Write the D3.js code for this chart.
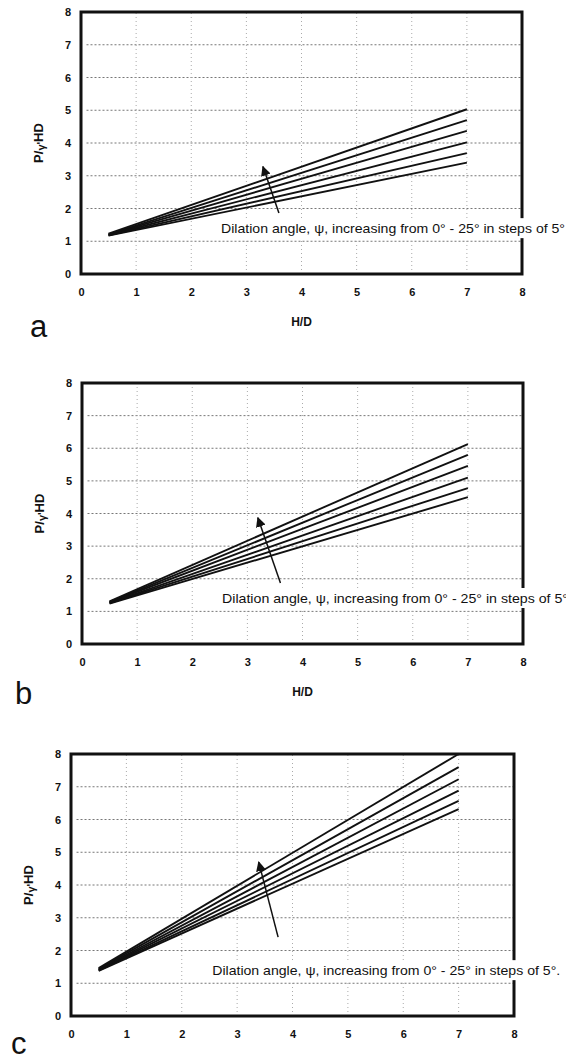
<!DOCTYPE html>
<head>
    <meta charset="UTF-8">
    <title>Pullout capacity vs H/D</title>
</head>
<style>
    body { margin: 0; background: #fff; }
    svg { font-family: "Liberation Sans", Arial, sans-serif; }
    .tick text { font-size: 11px; font-weight: bold; fill: #111; }
    .grid-h line { stroke: #777; stroke-dasharray: 2,2; }
    .grid-v line { stroke: #aaa; stroke-dasharray: 1,3; }
    .curve { fill: none; stroke: #111; stroke-width: 1.9; }
</style>
<body>
<script src="https://d3js.org/d3.v7.min.js"></script>
<script>
    // H/D values where each curve starts and ends (the curves are straight)
    var hd = [0.5, 7];
    var psi = [0, 5, 10, 15, 20, 25];
    var ticks = [0, 1, 2, 3, 4, 5, 6, 7, 8];

    // P/γ'HD at H/D = 0.5 and 7, one pair per dilation angle
    var valuesA = [[1.17, 3.40], [1.18, 3.69], [1.19, 4.02], [1.20, 4.37], [1.21, 4.70], [1.23, 5.03]];
    var valuesB = [[1.24, 4.50], [1.25, 4.78], [1.26, 5.10], [1.28, 5.46], [1.29, 5.80], [1.31, 6.13]];
    var valuesC = [[1.38, 6.32], [1.39, 6.57], [1.41, 6.88], [1.42, 7.23], [1.44, 7.60], [1.46, 8.00]];

    var note = "Dilation angle, \u03c8, increasing from 0\u00b0 - 25\u00b0 in steps of 5\u00b0";

    var panels = [
        {id: "a", values: valuesA, left: 81, right: 522, top: 12, bottom: 274, xlabel: true,
            text: [2.54, 1.40], tail: [3.59, 1.86], tip: [3.30, 3.28], end: "", len: 344},
        {id: "b", values: valuesB, left: 82, right: 523, top: 383, bottom: 644, xlabel: true,
            text: [2.54, 1.41], tail: [3.60, 1.87], tip: [3.19, 3.87], end: "", len: 346},
        {id: "c", values: valuesC, left: 71, right: 514, top: 754, bottom: 1016, xlabel: false,
            text: [2.55, 1.40], tail: [3.74, 2.41], tip: [3.39, 4.70], end: ".", len: 348}
    ];

    var svg = d3.select("body").append("svg")
        .attr("width", 566)
        .attr("height", 1061);

    svg.append("defs").append("marker")
        .attr("id", "head")
        .attr("viewBox", "0 0 10 10")
        .attr("refX", 9).attr("refY", 5)
        .attr("markerWidth", 10).attr("markerHeight", 10)
        .attr("markerUnits", "userSpaceOnUse")
        .attr("orient", "auto")
        .append("path")
        .attr("d", "M0,0L10,5L0,10z")
        .attr("fill", "#111");

    panels.forEach(function(p) {
        var x = d3.scaleLinear().domain([0, 8]).range([p.left, p.right]);
        var y = d3.scaleLinear().domain([0, 8]).range([p.bottom, p.top]);
        var g = svg.append("g");

        // dotted grid
        g.append("g").attr("class", "grid-h")
            .selectAll("line").data(ticks.slice(1, 8)).join("line")
            .attr("x1", x(0.1)).attr("x2", p.right)
            .attr("y1", y).attr("y2", y);
        g.append("g").attr("class", "grid-v")
            .selectAll("line").data(ticks.slice(1, 8)).join("line")
            .attr("x1", x).attr("x2", x)
            .attr("y1", p.bottom).attr("y2", p.top);

        // axes, labels only
        g.append("g")
            .attr("transform", "translate(" + p.left + ",0)")
            .call(d3.axisLeft(y).tickValues(ticks).tickSize(0).tickPadding(10))
            .call(function(a) { a.select(".domain").remove(); });
        g.append("g")
            .attr("transform", "translate(0," + p.bottom + ")")
            .call(d3.axisBottom(x).tickValues(ticks).tickSize(0).tickPadding(14))
            .call(function(a) { a.select(".domain").remove(); });

        // curves
        var line = d3.line()
            .x(function(d, i) { return x(hd[i]); })
            .y(function(d) { return y(d); });
        g.selectAll(".curve").data(p.values).join("path")
            .attr("class", "curve")
            .attr("d", line);

        // frame
        g.append("rect")
            .attr("x", p.left).attr("y", p.top)
            .attr("width", p.right - p.left).attr("height", p.bottom - p.top)
            .attr("fill", "none").attr("stroke", "#111").attr("stroke-width", 3);

        // annotation: arrow plus a white-backed text box that covers the frame
        g.append("line")
            .attr("x1", x(p.tail[0])).attr("y1", y(p.tail[1]))
            .attr("x2", x(p.tip[0])).attr("y2", y(p.tip[1]))
            .attr("stroke", "#111").attr("stroke-width", 1.5)
            .attr("marker-end", "url(#head)");
        g.append("rect")
            .attr("x", x(p.text[0]) - 4).attr("y", y(p.text[1]) - 10)
            .attr("width", p.len + 10).attr("height", 20)
            .attr("fill", "#fff");
        g.append("text")
            .attr("x", x(p.text[0])).attr("y", y(p.text[1]))
            .attr("dy", "0.35em")
            .attr("font-size", 13)
            .attr("textLength", p.len)
            .attr("lengthAdjust", "spacingAndGlyphs")
            .attr("fill", "#111")
            .text(note + p.end);

        // axis titles
        var yl = g.append("text")
            .attr("transform", "translate(" + (p.left - 38) + "," + ((p.top + p.bottom) / 2) + ") rotate(-90)")
            .attr("text-anchor", "middle")
            .attr("font-size", 13).attr("font-weight", "bold").attr("fill", "#111");
        yl.append("tspan").text("P/");
        yl.append("tspan").attr("font-size", 11).attr("dy", 2).text("\u03b3'");
        yl.append("tspan").attr("dy", -2).text("HD");

        if (p.xlabel) {
            g.append("text")
                .attr("x", (p.left + p.right) / 2).attr("y", p.bottom + 52)
                .attr("text-anchor", "middle")
                .attr("font-size", 12).attr("font-weight", "bold").attr("fill", "#111")
                .text("H/D");
        }
    });

    // panel letters
    var letters = [{t: "a", x: 30, y: 337}, {t: "b", x: 15, y: 704}, {t: "c", x: 11, y: 1054}];
    svg.selectAll(".letter").data(letters).join("text")
        .attr("class", "letter")
        .attr("x", function(d) { return d.x; })
        .attr("y", function(d) { return d.y; })
        .attr("font-size", 31)
        .attr("fill", "#111")
        .text(function(d) { return d.t; });
</script>
</body>
